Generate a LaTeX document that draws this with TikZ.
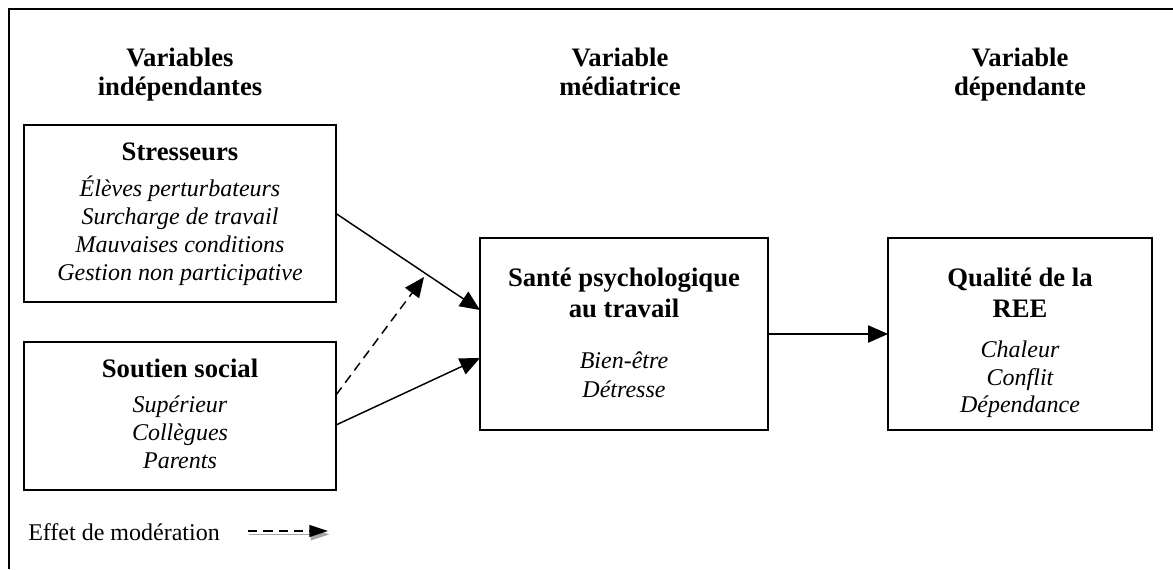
\documentclass[tikz,border=0pt]{standalone}
\usepackage{fontspec}
\setmainfont{Liberation Serif}
\usetikzlibrary{arrows.meta}
\begin{document}
\begin{tikzpicture}[x=0.75pt,y=-0.75pt,
  box/.style={draw, line width=1.1pt, inner sep=0pt, outer sep=0pt},
  hd/.style={font=\fontsize{20}{24}\selectfont\bfseries, anchor=base, inner sep=0pt},
  it/.style={font=\fontsize{18}{21}\selectfont\itshape, anchor=base, inner sep=0pt},
  arr/.style={line width=1.1pt, -{Triangle[length=15pt,width=13pt]}},
  modarr/.style={arr, dash pattern=on 7pt off 4.5pt}
]
\useasboundingbox (0,0) rectangle (1173,569);
% outer frame (only the left and top edges fall inside the page)
\draw[line width=1.3pt] (9,569) -- (9,9) -- (1173,9);

% column headings
\node[hd] (h1a) at (180,66) {Variables};
\node[hd] (h1b) at (180,95) {indépendantes};
\node[hd] (h2a) at (620,66) {Variable};
\node[hd] (h2b) at (620,95) {médiatrice};
\node[hd] (h3a) at (1020,66) {Variable};
\node[hd] (h3b) at (1020,95) {dépendante};

% boxes
\node[box, minimum width=234pt, minimum height=132.75pt] (stress) at (180,213.5) {};
\node[box, minimum width=234pt, minimum height=111pt] (soutien) at (180,416) {};
\node[box, minimum width=216pt, minimum height=144pt] (sante) at (624,334) {};
\node[box, minimum width=198pt, minimum height=144pt] (qual) at (1020,334) {};

% box contents
\node[hd] (t1) at (180,160) {Stresseurs};
\node[it] (t1a) at (180,196) {Élèves perturbateurs};
\node[it] (t1b) at (180,224) {Surcharge de travail};
\node[it] (t1c) at (180,252) {Mauvaises conditions};
\node[it] (t1d) at (180,280) {Gestion non participative};

\node[hd] (t2) at (180,377) {Soutien social};
\node[it] (t2a) at (180,412) {Supérieur};
\node[it] (t2b) at (180,440) {Collègues};
\node[it] (t2c) at (180,468) {Parents};

\node[hd] (t3) at (624,286) {Santé psychologique};
\node[hd] (t3b) at (624,317) {au travail};
\node[it] (t3c) at (624,368) {Bien-être};
\node[it] (t3d) at (624,397) {Détresse};

\node[hd] (t4) at (1020,286) {Qualité de la};
\node[hd] (t4b) at (1020,317) {REE};
\node[it] (t4c) at (1020,357) {Chaleur};
\node[it] (t4d) at (1020,385) {Conflit};
\node[it] (t4e) at (1020,412) {Dépendance};

% connectors
\coordinate (mod) at (424,277);
\draw[arr] (stress.east) -- ([yshift=18pt]sante.west);
\draw[arr] ([yshift=-6.75pt]soutien.east) -- ([yshift=-18pt]sante.west);
\draw[modarr] ([yshift=15.75pt]soutien.east) -- (mod);
\draw[arr] (sante.east) -- (qual.west);

% legend
\node[font=\fontsize{18}{21}\selectfont, anchor=base west, inner sep=0pt] (leg) at (28,540) {Effet de modération};
\coordinate (legA) at (248,531);
\coordinate (legB) at (328,531);
\draw[arr, gray!70, -{Triangle[length=14pt,width=9pt]}] ([xshift=1pt,yshift=-2.5pt]legA) -- ([xshift=1pt,yshift=-2.5pt]legB);
\draw[modarr, -{Triangle[length=14pt,width=9pt]}] (legA) -- (legB);
\end{tikzpicture}
\end{document}
